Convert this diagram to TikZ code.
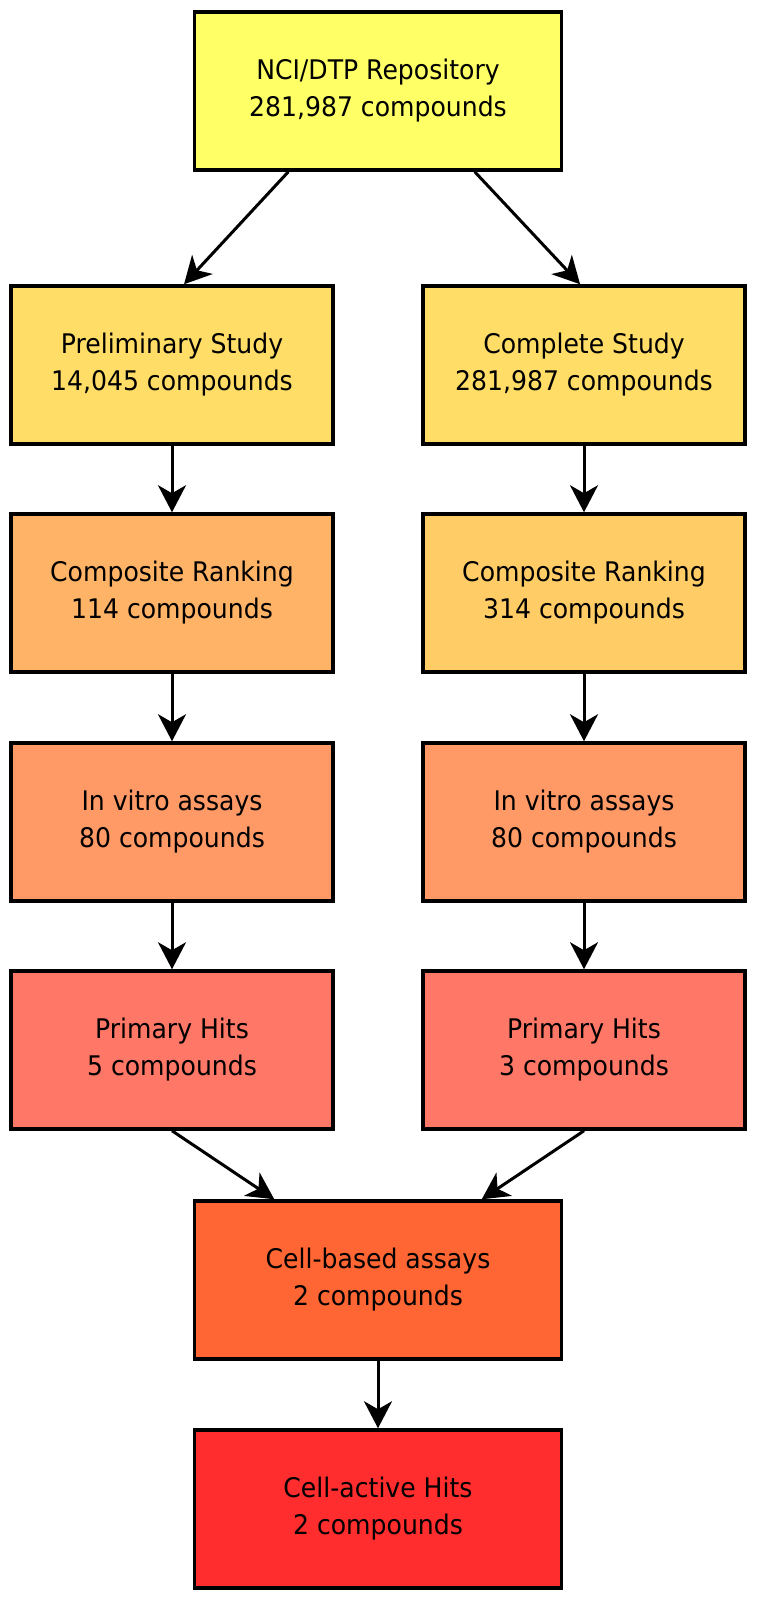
\documentclass[tikz,border=0pt]{standalone}
\usepackage{fontspec}
\setmainfont[FakeStretch=0.93]{DejaVu Sans}
\usetikzlibrary{arrows.meta,calc}
\definecolor{cTop}{HTML}{FFFF66}
\definecolor{cStudy}{HTML}{FFDD66}
\definecolor{cRankL}{HTML}{FFB366}
\definecolor{cRankR}{HTML}{FFCC66}
\definecolor{cVitro}{HTML}{FF9966}
\definecolor{cHits}{HTML}{FF7766}
\definecolor{cCell}{HTML}{FF6633}
\definecolor{cActive}{HTML}{FF2D2D}
\tikzset{
  box/.style={draw=black, line width=3.5pt, rectangle, align=center,
    font=\fontsize{27}{37}\selectfont, inner sep=0pt},
  colbox/.style={box, minimum width=322pt, minimum height=158pt},
  midbox/.style={box, minimum width=367pt, minimum height=158pt},
  conn/.style={line width=3pt, -{Stealth[length=27pt,width=28pt,inset=8pt]}},
}
\begin{document}
\begin{tikzpicture}[x=1pt,y=-1pt]
\useasboundingbox (0,0) rectangle (756,1600);
\node[midbox, fill=cTop] (top) at (378,91) {NCI/DTP Repository\\281,987 compounds};
\node[colbox, fill=cStudy] (prelim) at (172,365) {Preliminary Study\\14,045 compounds};
\node[colbox, fill=cStudy] (complete) at (584,365) {Complete Study\\281,987 compounds};
\node[colbox, fill=cRankL] (rankL) at (172,593) {Composite Ranking\\114 compounds};
\node[colbox, fill=cRankR] (rankR) at (584,593) {Composite Ranking\\314 compounds};
\node[colbox, fill=cVitro] (vitroL) at (172,822) {In vitro assays\\80 compounds};
\node[colbox, fill=cVitro] (vitroR) at (584,822) {In vitro assays\\80 compounds};
\node[colbox, fill=cHits] (hitsL) at (172,1050) {Primary Hits\\5 compounds};
\node[colbox, fill=cHits] (hitsR) at (584,1050) {Primary Hits\\3 compounds};
\node[midbox, fill=cCell] (cell) at (378,1280) {Cell-based assays\\2 compounds};
\node[midbox, fill=cActive] (active) at (378,1509) {Cell-active Hits\\2 compounds};

\draw[conn] ($(top.south west)!0.258!(top.south east)$) -- ($(prelim.north west)!0.537!(prelim.north east)$);
\draw[conn] ($(top.south west)!0.761!(top.south east)$) -- ($(complete.north west)!0.488!(complete.north east)$);
\draw[conn] (prelim) -- (rankL);
\draw[conn] (complete) -- (rankR);
\draw[conn] (rankL) -- (vitroL);
\draw[conn] (rankR) -- (vitroR);
\draw[conn] (vitroL) -- (hitsL);
\draw[conn] (vitroR) -- (hitsR);
\draw[conn] (hitsL.south) -- ($(cell.north west)!0.22!(cell.north east)$);
\draw[conn] (hitsR.south) -- ($(cell.north west)!0.78!(cell.north east)$);
\draw[conn] (cell) -- (active);
\end{tikzpicture}
\end{document}
